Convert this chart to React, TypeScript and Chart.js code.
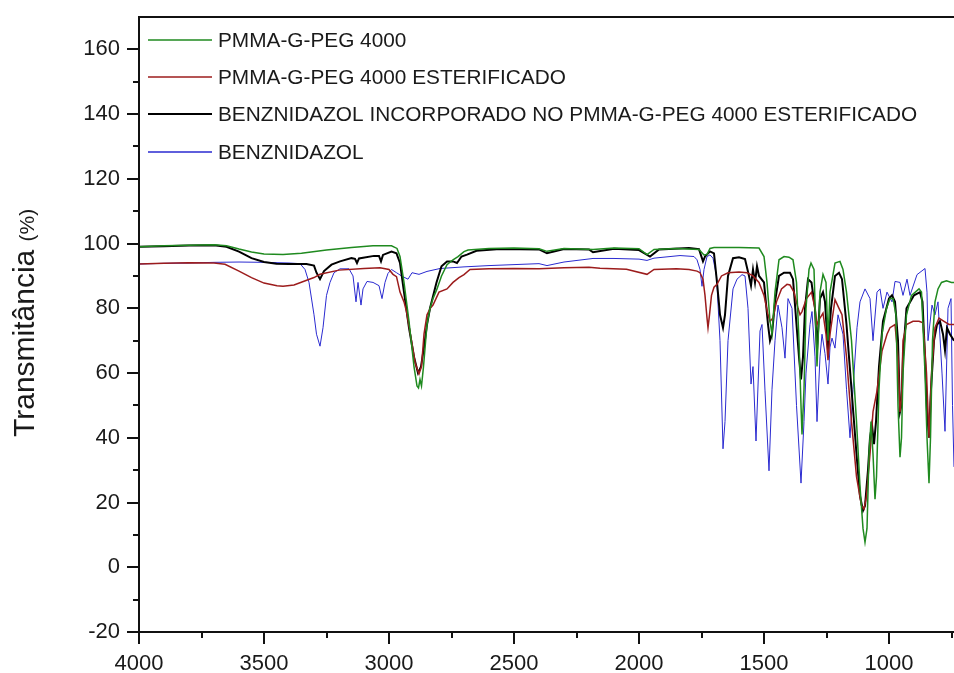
import { useEffect, useRef } from "react";
import { Chart, registerables } from "chart.js";

Chart.register(...registerables);

const FONT = "'Liberation Sans', Arial, Helvetica, sans-serif";

const seriesLabels = [
  "PMMA-G-PEG 4000",
  "PMMA-G-PEG 4000 ESTERIFICADO",
  "BENZNIDAZOL INCORPORADO NO PMMA-G-PEG 4000 ESTERIFICADO",
  "BENZNIDAZOL",
];
const seriesColors = ["#1f8a1f", "#9c1c1c", "#000000", "#2a2ad0"];
const seriesWidths = [1.5, 1.5, 2, 1];

const xMajorTicks = [4000, 3500, 3000, 2500, 2000, 1500, 1000];
const xMinorTicks = [3750, 3250, 2750, 2250, 1750, 1250, 750];
const yMajorTicks = [-20, 0, 20, 40, 60, 80, 100, 120, 140, 160];
const yMinorTicks = [-10, 10, 30, 50, 70, 90, 110, 130, 150];

const yTitleMain = "Transmitância";
const yTitleUnit = "(%)";

// PMMA-G-PEG 4000
const greenWn = [
  4000, 3900, 3800, 3700, 3650, 3600, 3550, 3500, 3424, 3350, 3250, 3150, 3064, 2990, 2968, 2956, 2940, 2920, 2900,
  2888, 2882, 2876, 2870, 2862, 2848, 2836, 2824, 2808, 2790, 2768, 2744, 2724, 2700, 2684, 2600, 2500, 2400, 2368,
  2300, 2184, 2100, 2000, 1968, 1940, 1850, 1760, 1740, 1728, 1716, 1700, 1600, 1520, 1500, 1488, 1476, 1468, 1456,
  1440, 1420, 1400, 1384, 1370, 1360, 1352, 1348, 1340, 1332, 1320, 1312, 1300, 1288, 1276, 1264, 1252, 1244, 1236,
  1216, 1196, 1184, 1170, 1150, 1130, 1116, 1104, 1096, 1088, 1080, 1072, 1064, 1056, 1050, 1040, 1028, 1010, 996,
  984, 972, 964, 956, 950, 944, 930, 910, 880, 870, 856, 848, 840, 834, 826, 816, 804, 790, 770, 750, 740,
];
const greenT = [
  99.0, 99.3, 99.5, 99.6, 99.3, 98.3, 97.4, 96.8, 96.6, 97.0, 98.0, 98.8, 99.3, 99.3, 98.5, 96, 88, 76, 62,
  56, 55.4, 58, 56, 62, 75, 80, 83, 86, 90, 93.5, 95, 96, 97.5, 98, 98.5, 98.6, 98.4, 97.6,
  98.5, 98.2, 98.6, 98.4, 96.6, 98.2, 98.5, 98.2, 96.5, 96.6, 98.5, 98.8, 98.8, 98.6, 96, 88, 76, 72, 85,
  95, 96, 95.8, 95, 88, 70, 50, 41, 55, 80, 92, 94, 92, 62, 85, 90.5, 88, 70, 85,
  94, 94.5, 92, 85, 70, 45, 25, 12, 7.7, 12, 35, 45, 35, 21, 28, 55, 72, 80, 83,
  83, 78, 50, 34, 40, 60, 78, 84, 86, 85, 60, 40, 26, 40, 70, 82, 86, 88, 88.5, 88, 88,
];

// PMMA-G-PEG 4000 ESTERIFICADO
const redWn = [
  4000, 3900, 3800, 3700, 3656, 3600, 3550, 3500, 3448, 3424, 3380, 3300, 3276, 3200, 3100, 3036, 3000, 2984, 2970,
  2956, 2940, 2930, 2910, 2895, 2880, 2870, 2860, 2848, 2835, 2824, 2800, 2768, 2744, 2720, 2700, 2676, 2600, 2500,
  2400, 2300, 2200, 2156, 2050, 1968, 1940, 1850, 1800, 1768, 1756, 1744, 1736, 1728, 1724, 1718, 1710, 1700, 1688,
  1670, 1644, 1600, 1568, 1544, 1520, 1500, 1484, 1476, 1464, 1450, 1430, 1408, 1396, 1380, 1364, 1356, 1348, 1330,
  1310, 1296, 1288, 1276, 1264, 1252, 1244, 1236, 1216, 1200, 1188, 1170, 1150, 1130, 1110, 1100, 1090, 1076, 1064,
  1048, 1028, 1008, 996, 976, 964, 956, 950, 944, 930, 904, 880, 864, 850, 840, 830, 816, 800, 780, 760, 740,
];
const redT = [
  93.7, 93.9, 94.1, 94.0, 93.6, 91.5, 89.5, 87.8, 87.0, 86.8, 87.2, 89.5, 90.5, 91.8, 92.3, 92.5, 92, 90.5, 89.8,
  85, 82, 79, 70, 63, 59.7, 62, 72, 78, 80, 81, 85, 86, 88, 89.5, 90.4, 92, 92.2, 92.3,
  92.2, 92.5, 92.7, 92.4, 92.1, 90.5, 92, 92.2, 92, 91.5, 91, 89, 84, 77, 74, 78, 84, 86.5, 87.4,
  90, 91, 91.2, 91, 90, 88, 84, 78, 76, 77, 82, 86, 87.4, 87.2, 85, 80, 78, 79, 83,
  85, 80, 75, 77, 78.5, 72, 64, 72, 82.7, 80, 78, 65, 45, 28, 19, 18, 22, 35, 48,
  54.5, 66.8, 72, 74, 75, 65, 48, 52, 70, 75, 76, 76, 75.5, 60, 40, 60, 74, 77, 76, 75, 75,
];

// BENZNIDAZOL INCORPORADO NO PMMA-G-PEG 4000 ESTERIFICADO
const blackWn = [
  4000, 3900, 3800, 3700, 3650, 3600, 3550, 3500, 3450, 3400, 3330, 3300, 3290, 3276, 3260, 3230, 3196, 3150, 3136,
  3128, 3120, 3060, 3040, 3032, 3024, 2990, 2970, 2956, 2940, 2920, 2900, 2884, 2872, 2860, 2848, 2836, 2810, 2790,
  2768, 2744, 2728, 2710, 2688, 2650, 2556, 2400, 2368, 2300, 2200, 2184, 2100, 2000, 1956, 1920, 1800, 1760, 1744,
  1736, 1716, 1700, 1688, 1676, 1664, 1656, 1644, 1624, 1600, 1576, 1560, 1552, 1544, 1536, 1528, 1520, 1500, 1484,
  1476, 1468, 1456, 1440, 1420, 1396, 1384, 1370, 1360, 1352, 1344, 1336, 1324, 1310, 1296, 1288, 1276, 1264, 1256,
  1244, 1232, 1216, 1200, 1188, 1170, 1150, 1130, 1116, 1104, 1096, 1084, 1076, 1068, 1060, 1052, 1040, 1024, 1000,
  988, 976, 964, 956, 950, 944, 930, 900, 876, 866, 856, 848, 840, 832, 820, 808, 796, 784, 776, 768, 756, 740,
];
const blackT = [
  99.0, 99.2, 99.4, 99.5, 99.0, 97.5, 95.5, 94.3, 93.8, 93.7, 93.7, 93.2, 91, 89, 91.5, 93.5, 94.5, 95.5, 95.3,
  94, 95.4, 96.2, 96.2, 94.5, 96.5, 97.5, 97, 94, 85, 74, 65, 60, 62, 68, 75, 80, 88, 93,
  94.5, 94.5, 94, 96, 96.6, 97.8, 98.3, 98.2, 97, 98.3, 98.2, 97.3, 98.4, 98, 96, 98.2, 98.6, 98.3, 94.5,
  96, 97.6, 97, 88, 78, 74, 78, 90, 95.5, 95.8, 95.2, 90, 87, 92, 88, 93, 90, 88, 75,
  70, 72, 82, 90, 91, 91, 89, 75, 65, 58, 65, 80, 89, 88, 80, 67, 83, 85, 82,
  67, 80, 90, 91, 89, 75, 55, 35, 22, 17.5, 19, 30, 40, 44, 38, 45, 62, 76, 83,
  84, 82, 70, 48, 50, 65, 80, 84, 85, 82, 65, 48, 40, 55, 70, 75, 76, 72, 67, 74, 72, 70,
];

// BENZNIDAZOL
const blueWn = [
  4000, 3900, 3800, 3700, 3600, 3500, 3400, 3356, 3336, 3320, 3300, 3290, 3276, 3264, 3250, 3236, 3220, 3196, 3160,
  3144, 3132, 3124, 3112, 3104, 3088, 3064, 3040, 3028, 3016, 3004, 2990, 2970, 2950, 2924, 2908, 2880, 2848, 2796,
  2700, 2600, 2500, 2400, 2368, 2300, 2184, 2100, 2000, 1968, 1940, 1836, 1780, 1768, 1756, 1748, 1740, 1728, 1716,
  1704, 1690, 1676, 1664, 1656, 1644, 1624, 1608, 1588, 1576, 1564, 1552, 1544, 1532, 1516, 1508, 1496, 1480, 1468,
  1456, 1444, 1428, 1416, 1404, 1388, 1370, 1352, 1340, 1332, 1316, 1308, 1296, 1288, 1276, 1268, 1256, 1244, 1236,
  1228, 1216, 1204, 1184, 1170, 1156, 1144, 1128, 1116, 1096, 1076, 1064, 1048, 1036, 1024, 1008, 988, 976, 956,
  944, 928, 916, 888, 856, 848, 844, 828, 816, 804, 788, 776, 764, 752, 746, 740,
];
const blueT = [
  93.7, 93.9, 94.0, 94.2, 94.3, 94.2, 94.0, 93.8, 92, 88, 78, 72, 68.3, 74, 84, 88, 91, 92.2, 92.2,
  90, 82, 88, 81, 86, 88.3, 88, 87, 83, 88, 90.8, 92, 91, 90, 89, 91, 90.5, 91.4, 92.3,
  92.8, 93.2, 93.5, 93.8, 93.2, 94.3, 95.4, 95.4, 95.2, 94.8, 95.5, 96.3, 96, 95, 92, 86.8, 92, 96, 96.5,
  95.5, 90, 70, 36.6, 45, 70, 86, 89, 90.4, 90, 80, 56.6, 62, 39, 73, 75, 54.5, 29.8, 55,
  70, 81, 74, 64.6, 83, 80, 50, 26, 45, 60, 75, 79, 65, 45, 65, 72, 66, 56.6, 68,
  70.8, 67.7, 78, 72, 55, 40, 55, 74, 82, 86, 83, 70, 85, 86, 80, 85, 82, 88.3, 88,
  84, 89, 84, 90.4, 92.3, 85, 70, 81, 78, 82, 60, 42, 80, 83, 50, 31,
];

const seriesWn = [greenWn, redWn, blackWn, blueWn];
const seriesT = [greenT, redT, blackT, blueT];

const decorPlugin = {
  id: "decor",
  afterDraw(chart: any) {
    const ctx = chart.ctx as CanvasRenderingContext2D;
    const { left, right, top, bottom } = chart.chartArea;
    const xs = chart.scales.x;
    const ys = chart.scales.y;
    ctx.save();
    ctx.strokeStyle = "#111";
    ctx.lineWidth = 2;
    ctx.lineCap = "butt";
    ctx.beginPath();
    ctx.moveTo(left, top);
    ctx.lineTo(right, top);
    ctx.moveTo(left, top - 1);
    ctx.lineTo(left, bottom + 1);
    ctx.moveTo(left - 1, bottom);
    ctx.lineTo(right, bottom);
    ctx.stroke();
    ctx.beginPath();
    for (const v of xMajorTicks) {
      const p = Math.round(xs.getPixelForValue(v));
      ctx.moveTo(p, bottom);
      ctx.lineTo(p, bottom + 12);
    }
    for (const v of xMinorTicks) {
      const p = Math.round(xs.getPixelForValue(v));
      ctx.moveTo(p, bottom);
      ctx.lineTo(p, bottom + 6);
    }
    for (const v of yMajorTicks) {
      const p = Math.round(ys.getPixelForValue(v));
      ctx.moveTo(left, p);
      ctx.lineTo(left - 12, p);
    }
    for (const v of yMinorTicks) {
      const p = Math.round(ys.getPixelForValue(v));
      ctx.moveTo(left, p);
      ctx.lineTo(left - 6, p);
    }
    ctx.stroke();

    // legend
    const rowY = [40, 77, 114, 152];
    ctx.font = `20.8px ${FONT}`;
    ctx.textBaseline = "middle";
    ctx.textAlign = "left";
    chart.data.datasets.forEach((ds: any, i: number) => {
      ctx.strokeStyle = ds.borderColor;
      ctx.lineWidth = Math.max(1.3, ds.borderWidth);
      ctx.beginPath();
      ctx.moveTo(left + 9, rowY[i]);
      ctx.lineTo(left + 73, rowY[i]);
      ctx.stroke();
      ctx.fillStyle = "#1a1a1a";
      ctx.fillText(ds.label, left + 79, rowY[i] + 1);
    });

    // y title
    ctx.translate(34, 437);
    ctx.rotate(-Math.PI / 2);
    ctx.fillStyle = "#1a1a1a";
    ctx.textBaseline = "alphabetic";
    ctx.font = `30px ${FONT}`;
    ctx.fillText(yTitleMain, 0, 0);
    const w = ctx.measureText(yTitleMain + " ").width;
    ctx.font = `21px ${FONT}`;
    ctx.fillText(yTitleUnit, w, 0);
    ctx.restore();
  },
};

export default function App() {
  const canvasRef = useRef<HTMLCanvasElement | null>(null);

  useEffect(() => {
    const canvas = canvasRef.current;
    if (!canvas) return;
    const datasets = seriesLabels.map((label, i) => ({
      label,
      data: seriesWn[i].map((x, j) => ({ x, y: seriesT[i][j] })),
      borderColor: seriesColors[i],
      backgroundColor: seriesColors[i],
      borderWidth: seriesWidths[i],
      pointRadius: 0,
      tension: 0,
      fill: false,
    }));
    const chart = new Chart(canvas, {
      type: "line",
      data: { datasets },
      plugins: [decorPlugin],
      options: {
        responsive: false,
        animation: false,
        devicePixelRatio: 1,
        layout: { padding: { top: 17, right: 0, left: 0, bottom: 0 } },
        plugins: { legend: { display: false }, tooltip: { enabled: false } },
        scales: {
          x: {
            type: "linear",
            reverse: true,
            min: 740,
            max: 4000,
            border: { display: false },
            grid: { display: false, drawTicks: false },
            afterBuildTicks: (s: any) => {
              s.ticks = xMajorTicks.map((v) => ({ value: v }));
            },
            ticks: {
              padding: 19,
              color: "#1a1a1a",
              font: { family: FONT, size: 22 },
              maxRotation: 0,
              autoSkip: false,
              callback: (v: any) => String(v),
            },
            afterFit: (s: any) => {
              s.height = 41;
              s.paddingLeft = 0;
              s.paddingRight = 0;
            },
          },
          y: {
            type: "linear",
            min: -20,
            max: 170,
            border: { display: false },
            grid: { display: false, drawTicks: false },
            afterBuildTicks: (s: any) => {
              s.ticks = yMajorTicks.map((v) => ({ value: v }));
            },
            ticks: {
              padding: 19,
              color: "#1a1a1a",
              font: { family: FONT, size: 22 },
              autoSkip: false,
              callback: (v: any) => String(v),
            },
            afterFit: (s: any) => {
              s.width = 139;
              s.paddingTop = 0;
              s.paddingBottom = 0;
            },
          },
        },
      },
    });
    return () => chart.destroy();
  }, []);

  return (
    <div style={{ position: "fixed", left: 0, top: 0, width: 954, height: 673, background: "#fff" }}>
      <canvas ref={canvasRef} width={954} height={673} style={{ display: "block" }} />
    </div>
  );
}
